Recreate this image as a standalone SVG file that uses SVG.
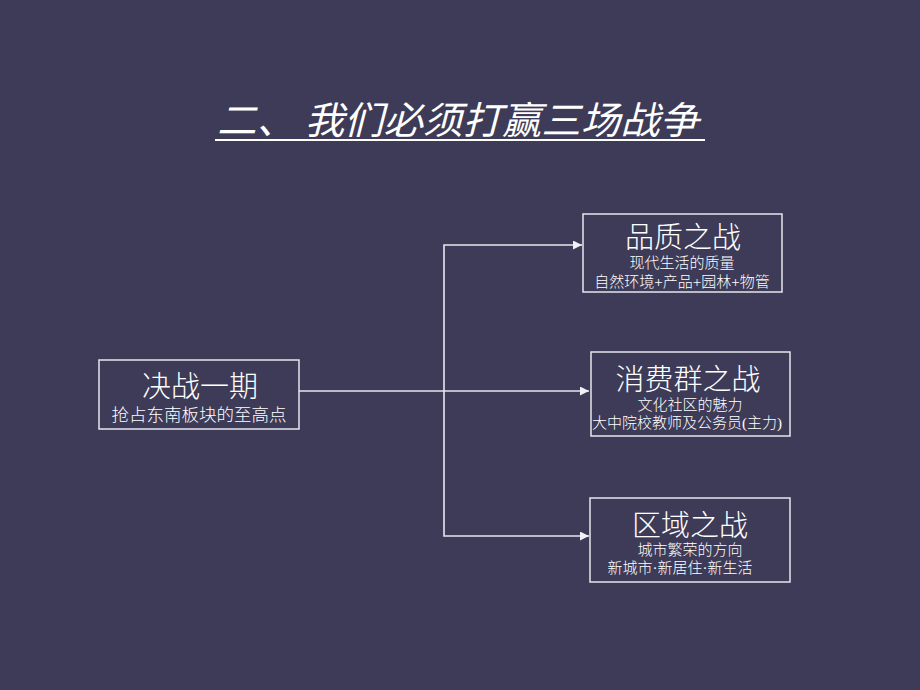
<svg xmlns="http://www.w3.org/2000/svg" width="920" height="690" viewBox="0 0 920 690">
<defs>
<style>
.bg{fill:#3d3b57}
.box{fill:none;stroke:#e6e6ee;stroke-width:1.5}
.t{fill:#ffffff;font-family:"Liberation Serif","Noto Sans CJK SC",serif;text-anchor:middle;font-weight:300}
.h{font-size:29px}
.s{font-size:15px}
.m{font-size:17.5px}
.ttl{fill:#ffffff;font-family:"Noto Sans CJK SC",sans-serif;font-size:38px;font-style:italic;font-weight:400}
.ln{fill:none;stroke:#e6e6ee;stroke-width:1.6}
</style>
<marker id="ah" viewBox="0 0 10 10" refX="10" refY="5" markerWidth="9" markerHeight="9" markerUnits="userSpaceOnUse" orient="auto">
<path d="M0,0 L10,5 L0,10 Z" fill="#f0f0f5"/>
</marker>
</defs>
<rect class="bg" x="0" y="0" width="920" height="690"/>
<g id="title">
<text class="ttl" x="217" y="134" textLength="482" lengthAdjust="spacingAndGlyphs">二、 我们必须打赢三场战争</text>
<line x1="215" y1="140" x2="705" y2="140" stroke="#ffffff" stroke-width="2"/>
</g>
<g id="connectors">
<line class="ln" x1="299" y1="391" x2="589" y2="391" marker-end="url(#ah)" stroke-width="2"/>
<polyline class="ln" points="444,391 444,245 582,245" marker-end="url(#ah)"/>
<polyline class="ln" points="444,391 444,536 589,536" marker-end="url(#ah)"/>
</g>
<g id="node-main">
<rect class="box" x="99" y="360" width="200" height="69"/>
<text class="t h" x="200" y="397">决战一期</text>
<text class="t m" x="199" y="421">抢占东南板块的至高点</text>
</g>
<g id="node-quality">
<rect class="box" x="583" y="214" width="199" height="78"/>
<text class="t h" x="683" y="248">品质之战</text>
<text class="t s" x="682" y="268">现代生活的质量</text>
<text class="t s" x="682" y="287">自然环境+产品+园林+物管</text>
</g>
<g id="node-consumer">
<rect class="box" x="591" y="352" width="199" height="84"/>
<text class="t h" x="688" y="390">消费群之战</text>
<text class="t s" x="690" y="410">文化社区的魅力</text>
<text class="t s" x="687" y="428">大中院校教师及公务员(主力)</text>
</g>
<g id="node-region">
<rect class="box" x="590" y="498" width="200" height="84"/>
<text class="t h" x="690" y="536">区域之战</text>
<text class="t s" x="690" y="555">城市繁荣的方向</text>
<text class="t s" x="680" y="573">新城市·新居住·新生活</text>
</g>
</svg>
